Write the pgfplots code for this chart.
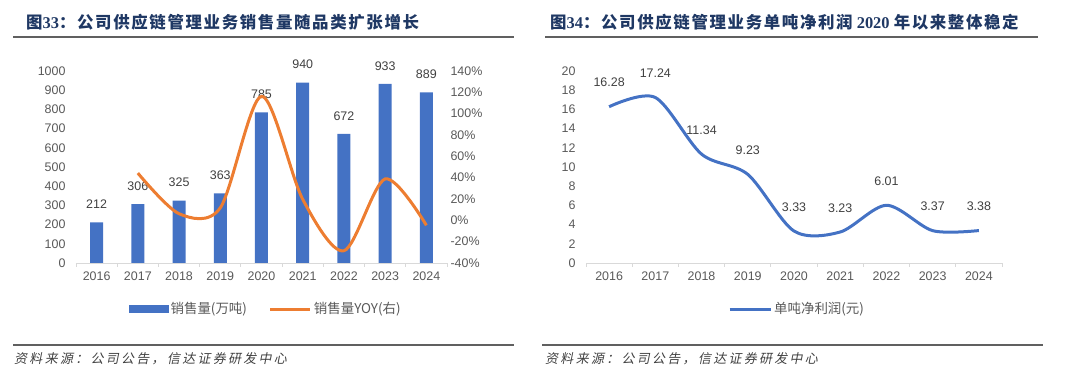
\documentclass[border=0pt]{standalone}
\usepackage{fontspec}
\setmainfont{Liberation Sans}
\newfontfamily\cjk{Noto Sans CJK SC}
\newfontfamily\ttlcjk[LetterSpace=10]{Noto Sans CJK SC}
\newfontfamily\ttlnum{Liberation Serif}
\newfontfamily\srccjk[FakeSlant=0.2,LetterSpace=18]{Noto Sans CJK SC}
\usepackage{pgfplots}
\pgfplotsset{compat=1.18}
\definecolor{barblue}{HTML}{4472C4}
\definecolor{lineorange}{HTML}{ED7D31}
\definecolor{tickgray}{HTML}{595959}
\definecolor{labgray}{HTML}{404040}
\definecolor{axgray}{HTML}{D9D9D9}
\definecolor{titleblue}{HTML}{1F3864}
\definecolor{rulegray}{HTML}{606060}
\pgfplotsset{
  common/.style={
    scale only axis, height=192bp,
    xmin=-0.5, xmax=8.5,
    major tick length=0pt,
    ticklabel style={font=\fontsize{12.5}{14}\selectfont, text=tickgray},
    /pgf/number format/assume math mode=true,
    /pgf/number format/set thousands separator={},
    yticklabel style={xshift=-7bp},
    xticklabel style={yshift=-5bp},
    clip=false,
  },
  basex/.style={
    axis x line*=bottom, axis y line*=left,
    x axis line style={-, draw=axgray, line width=0.8bp},
    y axis line style={draw=none},
    xtick={0,...,8}, xticklabels={2016,2017,2018,2019,2020,2021,2022,2023,2024},
    extra x ticks={-0.5,0.5,...,8.5}, extra x tick labels={},
    extra x tick style={major tick length=4bp, tick align=outside, tick style={draw=axgray, line width=0.8bp}},
  },
  legstyle/.style={
    legend style={draw=none, fill=none, inner sep=0pt,
      font=\cjk\fontsize{13.5}{15}\selectfont, text=tickgray,
      legend columns=2, anchor=west,
      /tikz/every even column/.append style={column sep=20bp}},
    legend cell align=left,
  },
}
\begin{document}
\begin{tikzpicture}
\path[use as bounding box] (0,0) rectangle (1080bp,378bp);
% titles
\node[anchor=west, inner sep=0pt, text=titleblue, font=\fontsize{16.5}{18}\selectfont\bfseries] at (26bp,356bp)
  {{\ttlcjk 图}{\ttlnum 33}{\ttlcjk ：公司供应链管理业务销售量随品类扩张增长}};
\node[anchor=west, inner sep=0pt, text=titleblue, font=\fontsize{16.5}{18}\selectfont\bfseries] at (550bp,356bp)
  {{\ttlcjk 图}{\ttlnum 34}{\ttlcjk ：公司供应链管理业务单吨净利润}{\ttlnum\ 2020 }{\ttlcjk 年以来整体稳定}};
\draw[rulegray, line width=2bp] (13bp,341bp) -- (514bp,341bp);
\draw[rulegray, line width=2bp] (545bp,341bp) -- (1038bp,341bp);
\draw[rulegray, line width=2bp] (13bp,33bp) -- (514bp,33bp);
\draw[rulegray, line width=2bp] (542bp,33bp) -- (1043bp,33bp);
\node[anchor=west, inner sep=0pt, text=labgray, font=\srccjk\fontsize{13}{15}\selectfont] at (14bp,19bp) {资料来源：公司公告，信达证券研发中心};
\node[anchor=west, inner sep=0pt, text=labgray, font=\srccjk\fontsize{13}{15}\selectfont] at (545bp,19bp) {资料来源：公司公告，信达证券研发中心};

% left chart: bars
\begin{axis}[common, basex, at={(76bp,115bp)}, anchor=south west, width=371bp,
  ymin=0, ymax=1000, ytick={0,100,...,1000},
  ybar, bar width=13bp,
  nodes near coords,
  every node near coord/.append style={font=\fontsize{12.5}{14}\selectfont, text=labgray, anchor=center, yshift=18bp},
]
\addplot[fill=barblue, draw=none] coordinates {(0,212) (1,306) (2,325) (3,363) (4,785) (5,940) (6,672) (7,933) (8,889)};
\end{axis}
% left chart: YOY
\begin{axis}[common, legstyle, at={(76bp,115bp)}, anchor=south west, width=371bp,
  ymin=-40, ymax=140, ytick={-40,-20,...,140},
  axis x line=none, axis y line*=right, y axis line style={draw=none},
  yticklabel={\pgfmathprintnumber{\tick}\%},
  yticklabel style={xshift=7bp},
  legend style={at={(0.1429,-0.2396)}},
]
\addlegendimage{legend image code/.code={\fill[barblue] (0bp,-3.5bp) rectangle (39bp,3.5bp);}}
\addlegendentry{销售量(万吨)}
\addplot[lineorange, line width=3bp, smooth,
  legend image code/.code={\draw[lineorange, line width=3bp] (0bp,0bp) -- (40bp,0bp);}]
  coordinates {(1,44.3) (2,6.2) (3,11.7) (4,116.3) (5,19.7) (6,-28.5) (7,38.8) (8,-4.7)};
\addlegendentry{销售量YOY(右)}
\end{axis}

% right chart
\begin{axis}[common, basex, legstyle, at={(586bp,115bp)}, anchor=south west, width=416bp,
  ymin=0, ymax=20, ytick={0,2,...,20},
  legend style={at={(0.3413,-0.2396)}},
  nodes near coords, point meta=explicit symbolic,
  every node near coord/.append style={font=\fontsize{12.5}{14}\selectfont, text=labgray, anchor=center, yshift=24bp},
]
\addplot[barblue, line width=3bp, smooth,
  legend image code/.code={\draw[barblue, line width=3bp] (0bp,0bp) -- (41bp,0bp);}]
  coordinates {(0,16.28) [16.28] (1,17.24) [17.24] (2,11.34) [11.34] (3,9.23) [9.23] (4,3.33) [3.33] (5,3.23) [3.23] (6,6.01) [6.01] (7,3.37) [3.37] (8,3.38) [3.38]};
\addlegendentry{单吨净利润(元)}
\end{axis}
\end{tikzpicture}
\end{document}
